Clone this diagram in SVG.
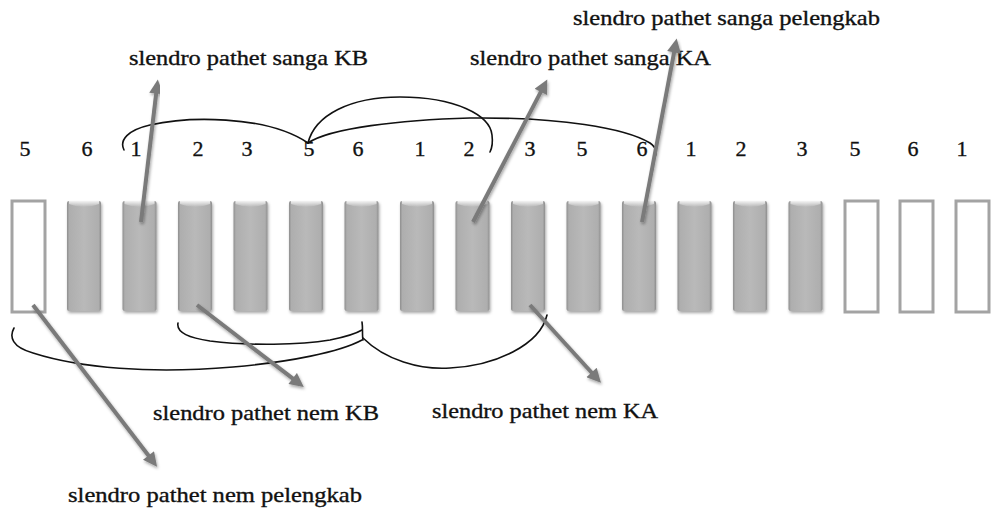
<svg xmlns="http://www.w3.org/2000/svg" xmlns:xlink="http://www.w3.org/1999/xlink" width="991" height="510" viewBox="0 0 991 510">
<style>
  text { font-family: 'Liberation Serif', 'Times New Roman', serif; fill: #111; stroke: #111; stroke-width: 0.35; }
  .num { font-size: 22px; text-anchor: middle; }
  .lbl { font-size: 22px; }
  .brace { fill: none; stroke: #111; stroke-width: 1.6; stroke-linecap: round; }
  .arrow { fill: none; stroke: #7a7a7a; stroke-width: 4; marker-end: url(#ah); filter: url(#sh); }
  .empty { fill: #fff; stroke: #a3a3a3; stroke-width: 3; }
</style>
<defs>
  <linearGradient id="barG" x1="0" y1="0" x2="1" y2="0">
    <stop offset="0" stop-color="#8e8e8e"/>
    <stop offset="0.07" stop-color="#aeaeae"/>
    <stop offset="0.5" stop-color="#b9b9b9"/>
    <stop offset="0.93" stop-color="#aeaeae"/>
    <stop offset="1" stop-color="#8e8e8e"/>
  </linearGradient>
  <linearGradient id="topG" x1="0" y1="0" x2="0" y2="1">
    <stop offset="0" stop-color="#ffffff" stop-opacity="0.85"/>
    <stop offset="1" stop-color="#ffffff" stop-opacity="0"/>
  </linearGradient>
  <filter id="sh" x="-20%" y="-20%" width="140%" height="140%">
    <feDropShadow dx="1" dy="2" stdDeviation="1.5" flood-color="#000" flood-opacity="0.35"/>
  </filter>
  <marker id="ah" viewBox="0 0 10 10" refX="2" refY="5" markerWidth="4" markerHeight="3.5" orient="auto">
    <path d="M0,0 L10,5 L0,10 z" fill="#7a7a7a"/>
  </marker>
  <g id="bar">
    <rect x="0" y="0" width="34" height="110" rx="2" fill="url(#barG)" filter="url(#sh)"/>
    <path d="M2,0 H32 V3 Q17,9 2,3 Z" fill="url(#topG)"/>
  </g>
</defs>

<g id="bars">
  <g id="bar0"><rect class="empty" x="12" y="201" width="33" height="111"/></g>
  <g id="bar1"><use xlink:href="#bar" x="67" y="201"/></g>
  <g id="bar2"><use xlink:href="#bar" x="122.5" y="201"/></g>
  <g id="bar3"><use xlink:href="#bar" x="178" y="201"/></g>
  <g id="bar4"><use xlink:href="#bar" x="233.5" y="201"/></g>
  <g id="bar5"><use xlink:href="#bar" x="289" y="201"/></g>
  <g id="bar6"><use xlink:href="#bar" x="344.5" y="201"/></g>
  <g id="bar7"><use xlink:href="#bar" x="400" y="201"/></g>
  <g id="bar8"><use xlink:href="#bar" x="455.5" y="201"/></g>
  <g id="bar9"><use xlink:href="#bar" x="511" y="201"/></g>
  <g id="bar10"><use xlink:href="#bar" x="566.5" y="201"/></g>
  <g id="bar11"><use xlink:href="#bar" x="622" y="201"/></g>
  <g id="bar12"><use xlink:href="#bar" x="677.5" y="201"/></g>
  <g id="bar13"><use xlink:href="#bar" x="733" y="201"/></g>
  <g id="bar14"><use xlink:href="#bar" x="788.5" y="201"/></g>
  <g id="bar15"><rect class="empty" x="845" y="201" width="33" height="111"/></g>
  <g id="bar16"><rect class="empty" x="900" y="201" width="33" height="111"/></g>
  <g id="bar17"><rect class="empty" x="956" y="201" width="33" height="111"/></g>
</g>

<g id="numbers">
  <text class="num" x="25" y="156">5</text>
  <text class="num" x="87" y="156">6</text>
  <text class="num" x="136" y="156">1</text>
  <text class="num" x="198" y="156">2</text>
  <text class="num" x="247" y="156">3</text>
  <text class="num" x="309" y="156">5</text>
  <text class="num" x="358" y="156">6</text>
  <text class="num" x="420" y="156">1</text>
  <text class="num" x="469" y="156">2</text>
  <text class="num" x="530" y="156">3</text>
  <text class="num" x="582" y="156">5</text>
  <text class="num" x="642" y="156">6</text>
  <text class="num" x="691" y="156">1</text>
  <text class="num" x="741" y="156">2</text>
  <text class="num" x="802" y="156">3</text>
  <text class="num" x="855" y="156">5</text>
  <text class="num" x="913" y="156">6</text>
  <text class="num" x="962" y="156">1</text>
</g>

<g id="label-sanga-kb"><text class="lbl" x="129" y="65" textLength="239" lengthAdjust="spacingAndGlyphs">slendro pathet sanga KB</text></g>
<g id="label-sanga-ka"><text class="lbl" x="470" y="65" textLength="241" lengthAdjust="spacingAndGlyphs">slendro pathet sanga KA</text></g>
<g id="label-sanga-pelengkab"><text class="lbl" x="573" y="25" textLength="307" lengthAdjust="spacingAndGlyphs">slendro pathet sanga pelengkab</text></g>
<g id="label-nem-kb"><text class="lbl" x="153" y="420" textLength="226" lengthAdjust="spacingAndGlyphs">slendro pathet nem KB</text></g>
<g id="label-nem-ka"><text class="lbl" x="432" y="418" textLength="226" lengthAdjust="spacingAndGlyphs">slendro pathet nem KA</text></g>
<g id="label-nem-pelengkab"><text class="lbl" x="68" y="502" textLength="294" lengthAdjust="spacingAndGlyphs">slendro pathet nem pelengkab</text></g>

<g id="connectors">
  <path class="brace" d="M124,150 C119,140 128,130 150,125 C185,117 265,114 308,143"/>
  <path class="brace" d="M308,143 C315,115 350,97 400,97 C455,97 490,115 492,135 C493,143 492,148 490,152"/>
  <path class="brace" d="M308,143 C330,128 400,120 470,118 C560,117 625,128 650,143 C657,148 658,154 653,160"/>
  <path class="brace" d="M14,328 C9,337 12,347 33,353 C80,368 150,374 233,367 C290,362 340,352 362,340"/>
  <path class="brace" d="M178,323 C176,333 190,338 210,341 C250,346 300,345 330,340 C345,337 357,333 362,330"/>
  <path class="brace" d="M362,322 C363,328 362,335 363,340"/>
  <path class="brace" d="M363,338 C385,360 420,370 450,368 C495,366 540,345 547,315"/>

  <line class="arrow" x1="141" y1="222" x2="156.5" y2="90.7"/>
  <line class="arrow" x1="473" y1="222" x2="542.1" y2="89.4"/>
  <line class="arrow" x1="642" y1="222" x2="674.6" y2="49.6"/>
  <line class="arrow" x1="33" y1="305" x2="150.2" y2="457.8"/>
  <line class="arrow" x1="197" y1="305" x2="294.9" y2="380.2"/>
  <line class="arrow" x1="530" y1="305" x2="593.4" y2="374.5"/>
</g>
</svg>
